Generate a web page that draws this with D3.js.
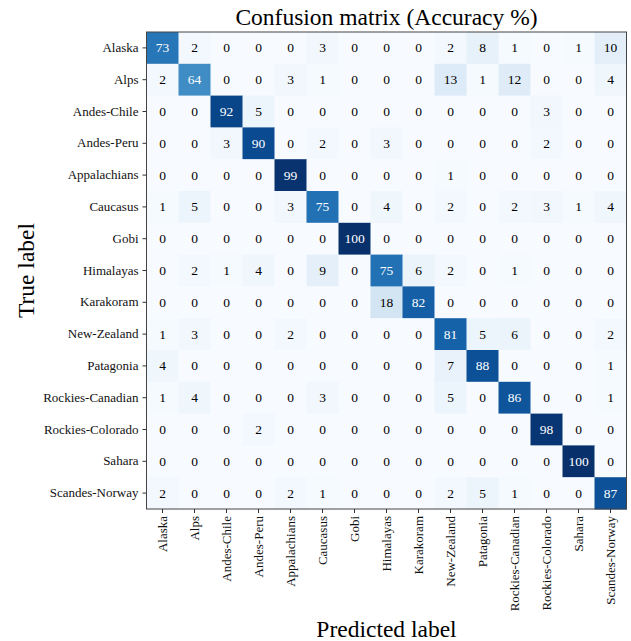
<!DOCTYPE html>
<html><head><meta charset="utf-8">
<script src="https://cdn.jsdelivr.net/npm/d3@7"></script>
<style>body{margin:0;background:#fff}svg{display:block}text{font-family:"Liberation Serif","Times New Roman",serif}</style>
</head><body>
<script>
const categories = ["Alaska","Alps","Andes-Chile","Andes-Peru","Appalachians","Caucasus","Gobi","Himalayas","Karakoram","New-Zealand","Patagonia","Rockies-Canadian","Rockies-Colorado","Sahara","Scandes-Norway"];
const matrix = [
  [73,2,0,0,0,3,0,0,0,2,8,1,0,1,10],
  [2,64,0,0,3,1,0,0,0,13,1,12,0,0,4],
  [0,0,92,5,0,0,0,0,0,0,0,0,3,0,0],
  [0,0,3,90,0,2,0,3,0,0,0,0,2,0,0],
  [0,0,0,0,99,0,0,0,0,1,0,0,0,0,0],
  [1,5,0,0,3,75,0,4,0,2,0,2,3,1,4],
  [0,0,0,0,0,0,100,0,0,0,0,0,0,0,0],
  [0,2,1,4,0,9,0,75,6,2,0,1,0,0,0],
  [0,0,0,0,0,0,0,18,82,0,0,0,0,0,0],
  [1,3,0,0,2,0,0,0,0,81,5,6,0,0,2],
  [4,0,0,0,0,0,0,0,0,7,88,0,0,0,1],
  [1,4,0,0,0,3,0,0,0,5,0,86,0,0,1],
  [0,0,0,2,0,0,0,0,0,0,0,0,98,0,0],
  [0,0,0,0,0,0,0,0,0,0,0,0,0,100,0],
  [2,0,0,0,2,1,0,0,0,2,5,1,0,0,87]
];
const titleText = "Confusion matrix (Accuracy %)";
const xLabel = "Predicted label";
const yLabel = "True label";

const FONT = '"Liberation Serif","Times New Roman",serif';
const W = 631, H = 641;
const m = {left:146.5, top:32, w:480, h:477};
const svg = d3.select("body").append("svg").attr("width",W).attr("height",H);
const x = d3.scaleBand().domain(categories).range([m.left, m.left+m.w]);
const y = d3.scaleBand().domain(categories).range([m.top, m.top+m.h]);
const color = d3.scaleSequential(d3.interpolateBlues).domain([0,100]);

const cells = [];
matrix.forEach((row,i)=>row.forEach((v,j)=>cells.push({t:categories[i],p:categories[j],v})));

svg.append("g").selectAll("rect").data(cells).join("rect")
  .attr("x",d=>x(d.p)).attr("y",d=>y(d.t))
  .attr("width",x.bandwidth()+0.5).attr("height",y.bandwidth()+0.5)
  .attr("fill",d=>color(d.v));

svg.append("g").selectAll("text").data(cells).join("text")
  .attr("x",d=>x(d.p)+x.bandwidth()/2).attr("y",d=>y(d.t)+y.bandwidth()/2)
  .attr("text-anchor","middle").attr("dominant-baseline","central")
  .attr("font-family",FONT).attr("font-size",13.5)
  .attr("fill",d=>d.v>50?"#ffffff":"#000000")
  .text(d=>d.v);

svg.append("rect").attr("x",m.left).attr("y",m.top).attr("width",m.w).attr("height",m.h)
  .attr("fill","none").attr("stroke","#444").attr("stroke-width",1);

const yAxis = svg.append("g").attr("transform",`translate(${m.left},0)`)
  .call(d3.axisLeft(y).tickSize(4).tickPadding(4));
const xAxis = svg.append("g").attr("transform",`translate(0,${m.top+m.h})`)
  .call(d3.axisBottom(x).tickSize(4).tickPadding(4));
[yAxis,xAxis].forEach(a=>{
  a.attr("font-family",FONT).attr("font-size",13);
  a.select(".domain").remove();
  a.selectAll(".tick line").attr("stroke","#333");
  a.selectAll(".tick text").attr("fill","#111");
});
xAxis.selectAll(".tick text")
  .attr("transform","rotate(-90)").attr("text-anchor","end")
  .attr("x",-7).attr("y",0).attr("dy","0.35em");

svg.append("text").attr("x",m.left+m.w/2).attr("y",25).attr("text-anchor","middle")
  .attr("font-family",FONT).attr("font-size",23.5).attr("fill","#000").text(titleText);
svg.append("text").attr("x",m.left+m.w/2).attr("y",637).attr("text-anchor","middle")
  .attr("font-family",FONT).attr("font-size",23.5).attr("fill","#000").text(xLabel);
svg.append("text").attr("transform",`translate(34,${m.top+m.h/2}) rotate(-90)`).attr("text-anchor","middle")
  .attr("font-family",FONT).attr("font-size",23.5).attr("fill","#000").text(yLabel);
</script>
</body></html>
